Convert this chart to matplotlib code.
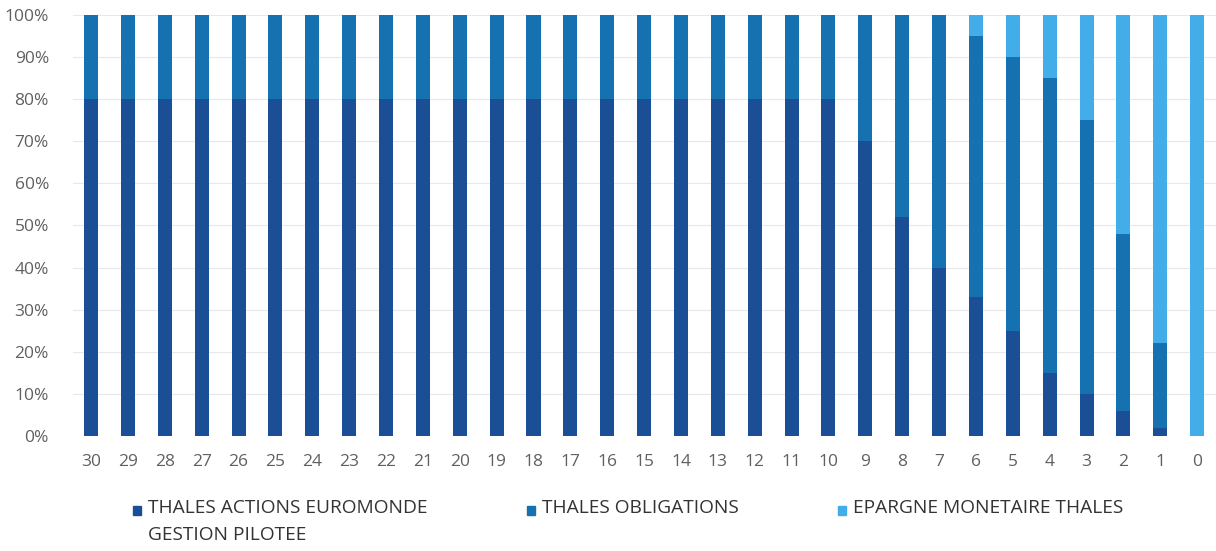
import numpy as np
import matplotlib
matplotlib.use('Agg')
import matplotlib.pyplot as plt
from matplotlib.patches import Rectangle

plt.rcParams['font.family'] = ['Open Sans', 'DejaVu Sans']

# =============================================================
# DATA (years before target, % allocation)
# =============================================================
years = [30, 29, 28, 27, 26, 25, 24, 23, 22, 21, 20, 19, 18, 17, 16, 15,
         14, 13, 12, 11, 10, 9, 8, 7, 6, 5, 4, 3, 2, 1, 0]
actions = [80, 80, 80, 80, 80, 80, 80, 80, 80, 80, 80, 80, 80, 80, 80, 80,
           80, 80, 80, 80, 80, 70, 52, 40, 33, 25, 15, 10, 6, 2, 0]
obligations = [20, 20, 20, 20, 20, 20, 20, 20, 20, 20, 20, 20, 20, 20, 20, 20,
               20, 20, 20, 20, 20, 30, 48, 60, 62, 65, 70, 65, 42, 20, 0]
monetaire = [0, 0, 0, 0, 0, 0, 0, 0, 0, 0, 0, 0, 0, 0, 0, 0,
             0, 0, 0, 0, 0, 0, 0, 0, 5, 10, 15, 25, 52, 78, 100]

labels = ['THALES ACTIONS EUROMONDE\nGESTION PILOTEE',
          'THALES OBLIGATIONS',
          'EPARGNE MONETAIRE THALES']
colors = ['#1b4f95', '#1571b0', '#43ade9']

# =============================================================
# PLOT
# =============================================================
fig = plt.figure(figsize=(12.16, 5.51), dpi=100)
ax = fig.add_axes([0.0597, 0.2087, 0.94, 0.7641])

x = np.arange(len(years))
a = np.array(actions)
o = np.array(obligations)
m = np.array(monetaire)
w = 0.38
ax.bar(x, a, w, color=colors[0], zorder=3)
ax.bar(x, o, w, bottom=a, color=colors[1], zorder=3)
ax.bar(x, m, w, bottom=a + o, color=colors[2], zorder=3)

ax.set_xlim(-0.5, len(years) - 0.5)
ax.set_ylim(0, 100)
ax.set_yticks(np.arange(0, 101, 10))
ax.set_yticklabels([f'{v}%' for v in range(0, 101, 10)])
ax.set_xticks(x)
ax.set_xticklabels([str(y) for y in years])
ax.tick_params(axis='both', length=0, labelsize=12.5, labelcolor='#606060')
ax.tick_params(axis='x', pad=13)
ax.tick_params(axis='y', pad=17)
for s in ax.spines.values():
    s.set_visible(False)
ax.yaxis.grid(True, color='#e8e8e8', linewidth=0.8, zorder=0)

# legend, drawn by hand so the marker sits on the first line
leg_x = [0.109, 0.433, 0.689]
for lx, lab, c in zip(leg_x, labels, colors):
    fig.add_artist(Rectangle((lx, 0.066), 0.0066, 0.0165,
                             transform=fig.transFigure, color=c))
    fig.text(lx + 0.0125, 0.094, lab, fontsize=13.8, color='#333333',
             va='top', ha='left', linespacing=1.65)

fig.savefig('out.png', dpi=100)
